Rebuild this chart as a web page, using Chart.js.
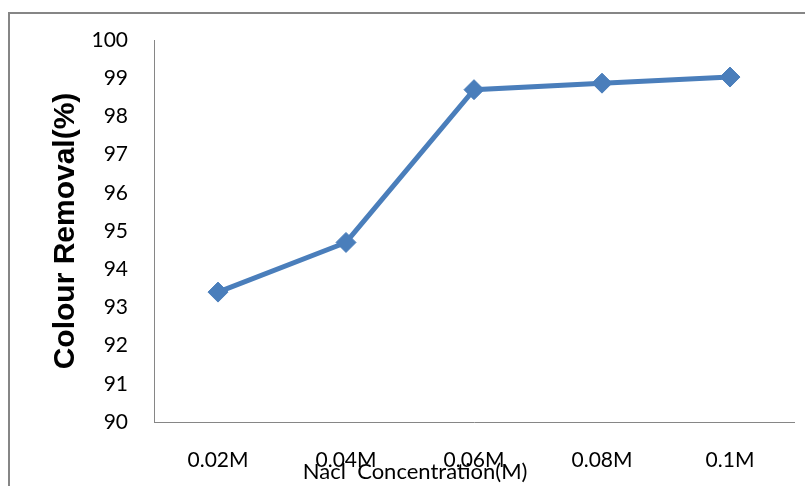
<!DOCTYPE html>
<html>
<head>
<meta charset="utf-8">
<script src="https://cdn.jsdelivr.net/npm/chart.js@4/dist/chart.umd.min.js"></script>
<style>
  html, body { margin: 0; padding: 0; background: #fff; }
  #wrap { width: 805px; height: 486px; position: relative; }
</style>
</head>
<body>
<div id="wrap"><canvas id="grafico"></canvas></div>
<script>
const categorias = ['0.02M', '0.04M', '0.06M', '0.08M', '0.1M'];
const remocion = [93.4, 94.7, 98.7, 98.87, 99.03];
const tituloX = 'Nacl  Concentration(M)';
const tituloY = 'Colour Removal(%)';

const azul = '#4a7ebb';
const gris = '#868686';

// marco exterior del gráfico (solo se ven el borde superior e izquierdo)
const marco = {
  id: 'marco',
  beforeDraw(chart) {
    const ctx = chart.ctx;
    ctx.save();
    ctx.strokeStyle = gris;
    ctx.lineWidth = 2;
    ctx.strokeRect(9, 13, 820, 500);
    ctx.restore();
  }
};

// el título del eje X va corrido a la izquierda y pegado a las etiquetas
const tituloEjeX = {
  id: 'tituloEjeX',
  afterDraw(chart) {
    const { ctx, chartArea } = chart;
    ctx.save();
    ctx.font = '22px Lato';
    ctx.fillStyle = '#000';
    ctx.textAlign = 'center';
    ctx.textBaseline = 'alphabetic';
    const x = chartArea.left + (chartArea.right - chartArea.left) * 0.408;
    ctx.fillText(tituloX, x, chart.height - 7);
    ctx.restore();
  }
};

new Chart(document.getElementById('grafico'), {
  type: 'line',
  data: {
    labels: categorias,
    datasets: [{
      data: remocion,
      borderColor: azul,
      backgroundColor: azul,
      borderWidth: 5,
      pointStyle: 'rectRot',
      pointRadius: 10,
      pointBorderWidth: 1,
      tension: 0
    }]
  },
  options: {
    responsive: true,
    maintainAspectRatio: false,
    animation: false,
    layout: { padding: { top: 40, left: 40, right: 11, bottom: 0 } },
    plugins: { legend: { display: false }, tooltip: { enabled: false } },
    scales: {
      x: {
        offset: true,
        grid: { display: false, drawTicks: false },
        border: { color: gris, width: 1 },
        ticks: { color: '#000', padding: 26, font: { family: 'Lato', size: 21 } },
        afterFit: s => { s.height = 64; }
      },
      y: {
        min: 90, max: 100,
        grid: { display: false, drawTicks: false },
        border: { color: gris, width: 1 },
        ticks: { stepSize: 1, color: '#000', padding: 26, font: { family: 'Lato', size: 21 } },
        title: {
          display: true, text: tituloY, color: '#000',
          font: { family: 'Liberation Sans', size: 30, weight: 'bold' },
          padding: { top: 8, bottom: 0 }
        },
        afterFit: s => { s.width = 114; }
      }
    }
  },
  plugins: [marco, tituloEjeX]
});
</script>
</body>
</html>
